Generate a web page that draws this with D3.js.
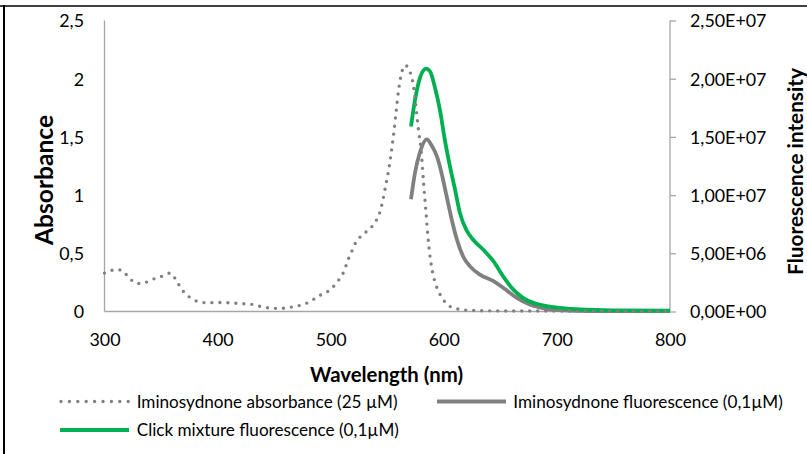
<!DOCTYPE html>
<html><head><meta charset="utf-8">
<script src="https://cdn.jsdelivr.net/npm/d3@7"></script>
<style>body{margin:0;background:#fff}svg{display:block}text{font-family:Lato,"Open Sans",sans-serif}</style>
</head><body><svg id="c" width="807" height="454"></svg>
<script>
const absNm = [300,305,310,315,320,325,330,335,340,345,350,355,358,362,366,370,375,380,385,390,400,410,420,428,435,442,450,456,463,470,478,484,491,497,502,507,511,516,519,522,527,532,537,541,544,546,548,550,552,554,556,558,560,562,564,566,568,570,572,574,576,578,580,582,584,586,588,590,592,595,599,603,610,617,630,650,700,750,800];
const absVal = [0.33,0.35,0.36,0.355,0.31,0.26,0.24,0.245,0.265,0.285,0.30,0.32,0.33,0.29,0.225,0.17,0.125,0.095,0.082,0.075,0.077,0.075,0.068,0.065,0.05,0.036,0.027,0.027,0.035,0.046,0.068,0.10,0.142,0.17,0.21,0.27,0.33,0.46,0.525,0.59,0.65,0.69,0.736,0.796,0.87,0.95,1.05,1.15,1.26,1.40,1.55,1.73,1.90,2.02,2.09,2.115,2.10,2.06,2.0,1.88,1.70,1.53,1.38,1.12,0.88,0.64,0.46,0.34,0.26,0.18,0.11,0.06,0.028,0.014,0.008,0.005,0.004,0.003,0.003];
const fluoNm = [571,574.5,579,585,589,594,598,602.5,607,611.5,617,623,632,644,653,664.5,676,691,706,730,760,800];
const fluoVal = [9.65e6,1.19e7,1.37e7,1.478e7,1.43e7,1.33e7,1.19e7,9.9e6,7.9e6,6.2e6,4.75e6,3.9e6,3.17e6,2.6e6,2.0e6,1.17e6,6.0e5,2.3e5,9e4,4e4,3e4,3e4];
const clickNm = [571,574.5,579,584.3,588,592,596.6,601,605.5,610,614.3,620,626,635,644,652.6,661.5,670,682,697,711.6,720,750,800];
const clickVal = [1.59e7,1.815e7,2.01e7,2.086e7,2.06e7,1.93e7,1.73e7,1.47e7,1.244e7,1.045e7,8.45e6,7.0e6,6.16e6,5.3e6,4.3e6,3.0e6,1.88e6,1.17e6,6.6e5,3.7e5,2.3e5,1.7e5,1.0e5,8e4];
const xTicks = [300,400,500,600,700,800];
const yLeftTicks = [0,0.5,1,1.5,2,2.5];
const yLeftLabels = ["0","0,5","1","1,5","2","2,5"];
const yRightTicks = [0,5e6,1e7,1.5e7,2e7,2.5e7];
const yRightLabels = ["0,00E+00","5,00E+06","1,00E+07","1,50E+07","2,00E+07","2,50E+07"];
const legendLabels = ["Iminosydnone absorbance (25 µM)","Iminosydnone fluorescence (0,1µM)","Click mixture fluorescence (0,1µM)"];

const svg = d3.select("#c");
const L=104.5, R=670, T=20.5, B=311.5;
const x = d3.scaleLinear().domain([300,800]).range([L,R]);
const yL = d3.scaleLinear().domain([0,2.5]).range([B,T]);
const yR = d3.scaleLinear().domain([0,2.5e7]).range([B,T]);
const FS = 16;
const axisCol = "#a6a6a6";
const gray = "#808080", green = "#00b050";

function fitSize(sel, target){ // returns font size making sel's text length equal target
  const w = sel.node().getComputedTextLength();
  return FS*target/w;
}

// frame
svg.append("line").attr("x1",0).attr("x2",807).attr("y1",6).attr("y2",6).attr("stroke","#000").attr("stroke-width",1.5);
svg.append("line").attr("x1",4).attr("x2",4).attr("y1",5).attr("y2",454).attr("stroke","#000").attr("stroke-width",2);

// axes
const gx = svg.append("g").attr("transform",`translate(0,${B})`).call(d3.axisBottom(x).tickValues(xTicks).tickSize(0).tickPadding(0).tickFormat(d=>d));
const gl = svg.append("g").attr("transform",`translate(${L},0)`).call(d3.axisLeft(yL).tickValues(yLeftTicks).tickSize(0).tickPadding(20.5).tickFormat((d,i)=>yLeftLabels[i]));
const gr = svg.append("g").attr("transform",`translate(${R},0)`).call(d3.axisRight(yR).tickValues(yRightTicks).tickSize(6).tickPadding(14).tickFormat((d,i)=>yRightLabels[i]));
[gx,gl,gr].forEach(g=>{
  g.select(".domain").attr("stroke",axisCol).attr("stroke-width",1.3);
  g.selectAll(".tick line").attr("stroke",axisCol).attr("stroke-width",1.3);
  g.selectAll("text").attr("font-family","Lato").attr("font-size",FS).attr("fill","#000");
});
gx.select(".domain").attr("d",`M${L},0H${R}`);
gl.select(".domain").attr("d",`M0,${T}V${B}`);
gr.select(".domain").attr("d",`M0,${T}V${B}`);
// tick font size matched to reference label width
const tickFS = fitSize(gr.selectAll(".tick text").filter((d,i)=>i===5), 76.5);
[gx,gl,gr].forEach(g=>g.selectAll("text").attr("font-size",tickFS).attr("dy","0.36em"));
gx.selectAll("text").attr("y",28);
gr.selectAll("text").attr("x",20);

// lines
const lineL = d3.line().x(d=>x(d[0])).y(d=>yL(d[1])).curve(d3.curveMonotoneX);
const lineR = d3.line().x(d=>x(d[0])).y(d=>yR(d[1])).curve(d3.curveMonotoneX);
svg.append("path").datum(fluoNm.map((n,i)=>[n,fluoVal[i]])).attr("d",lineR).attr("fill","none").attr("stroke",gray).attr("stroke-width",3.8).attr("stroke-linejoin","round");
svg.append("path").datum(clickNm.map((n,i)=>[n,clickVal[i]])).attr("d",lineR).attr("fill","none").attr("stroke",green).attr("stroke-width",3.8).attr("stroke-linejoin","round");
svg.append("path").datum(absNm.map((n,i)=>[n,absVal[i]])).attr("d",lineL).attr("fill","none").attr("stroke",gray).attr("stroke-width",3.4).attr("stroke-linecap","round").attr("stroke-dasharray","0,8");

// titles
const tx = svg.append("text").attr("x",386.5).attr("y",381.5).attr("text-anchor","middle").attr("font-weight","bold").attr("font-size",FS).text("Wavelength (nm)");
tx.attr("font-size",fitSize(tx,153));
const tl = svg.append("text").attr("transform",`translate(52.5,180) rotate(-90)`).attr("text-anchor","middle").attr("font-weight","bold").attr("font-size",FS).text("Absorbance");
tl.attr("font-size",fitSize(tl,130));
const tr = svg.append("text").attr("transform",`translate(802.5,171.5) rotate(-90)`).attr("text-anchor","middle").attr("font-weight","bold").attr("font-size",FS).text("Fluorescence intensity");
tr.attr("font-size",fitSize(tr,207));

// legend
const leg = [
  {x:60,y:401.5,style:"dot",col:gray,tx:136.7},
  {x:437,y:401.5,style:"solid",col:gray,tx:513.3},
  {x:60,y:430,style:"solid",col:green,tx:136.7}
];
let legFS = null;
leg.forEach((l,i)=>{
  const ln = svg.append("line").attr("x1",l.x).attr("x2",l.x+69).attr("y1",l.y).attr("y2",l.y).attr("stroke",l.col);
  if(l.style==="dot") ln.attr("stroke-width",3.4).attr("stroke-linecap","round").attr("stroke-dasharray","0,8.4").attr("x1",l.x+1);
  else ln.attr("stroke-width",3.8);
  const t = svg.append("text").attr("x",l.tx).attr("y",l.y).attr("dy","0.36em").attr("font-size",FS).text(legendLabels[i]);
  if(legFS===null) legFS = fitSize(t,261);
  t.attr("font-size",legFS);
});
</script></body></html>
